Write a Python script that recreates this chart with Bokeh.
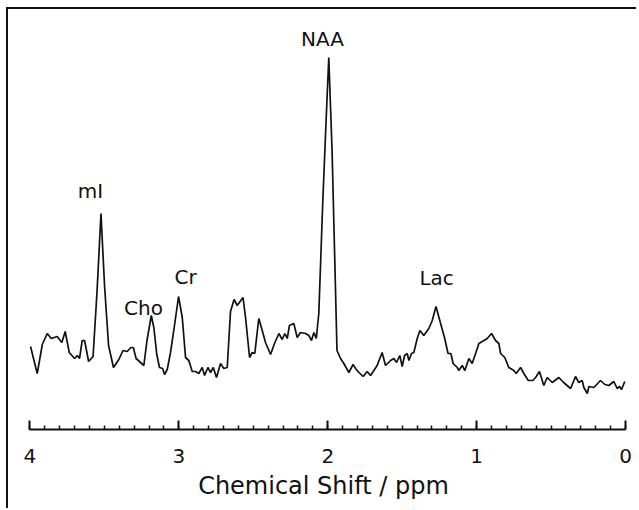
from bokeh.plotting import figure
from bokeh.models import Range1d, SingleIntervalTicker, ColumnDataSource
from bokeh.embed import file_html
from bokeh.resources import INLINE
from bokeh.core.properties import value

# chemical shift (ppm) and signal intensity (a.u.)
ppm = [3.996, 3.951, 3.917, 3.884, 3.857, 3.817, 3.786, 3.763, 3.736, 3.700,
       3.682, 3.667, 3.649, 3.633, 3.606, 3.576, 3.549, 3.523, 3.499, 3.472,
       3.439, 3.403, 3.375, 3.347, 3.322, 3.306, 3.287, 3.235, 3.214, 3.200,
       3.185, 3.168, 3.148, 3.130, 3.109, 3.096, 3.078, 3.056, 3.034, 3.002,
       2.977, 2.955, 2.933, 2.910, 2.888, 2.866, 2.843, 2.827, 2.805, 2.787,
       2.769, 2.747, 2.720, 2.698, 2.675, 2.653, 2.629, 2.608, 2.569, 2.552,
       2.525, 2.507, 2.490, 2.463, 2.440, 2.418, 2.384, 2.355, 2.328, 2.306,
       2.288, 2.272, 2.257, 2.228, 2.205, 2.183, 2.149, 2.127, 2.109, 2.093,
       2.077, 2.060, 2.033, 2.011, 1.993, 1.971, 1.951, 1.938, 1.914, 1.892,
       1.858, 1.830, 1.813, 1.791, 1.762, 1.735, 1.713, 1.690, 1.668, 1.635,
       1.612, 1.578, 1.556, 1.538, 1.516, 1.500, 1.484, 1.466, 1.455, 1.437,
       1.422, 1.399, 1.381, 1.355, 1.321, 1.298, 1.273, 1.242, 1.216, 1.192,
       1.173, 1.158, 1.130, 1.120, 1.097, 1.079, 1.052, 1.030, 1.007, 0.985,
       0.962, 0.929, 0.900, 0.873, 0.851, 0.839, 0.811, 0.784, 0.750, 0.734,
       0.705, 0.683, 0.653, 0.623, 0.604, 0.578, 0.549, 0.526, 0.492, 0.448,
       0.416, 0.369, 0.336, 0.314, 0.291, 0.280, 0.257, 0.246, 0.213, 0.168,
       0.139, 0.112, 0.079, 0.056, 0.040, 0.027, 0.005]
intensity = [83, 56, 85, 96, 91, 93, 87, 98, 77, 71,
             74, 71, 89, 89, 68, 73, 139, 216, 144, 84,
             62, 70, 79, 78, 82, 82, 71, 64, 89, 101,
             114, 102, 75, 62, 61, 55, 60, 77, 99, 133,
             112, 72, 69, 58, 58, 56, 62, 54, 62, 57,
             62, 52, 66, 61, 62, 118, 130, 124, 132, 112,
             72, 77, 76, 111, 99, 87, 75, 87, 96, 90,
             96, 91, 104, 106, 92, 97, 96, 94, 89, 97,
             91, 116, 229, 309, 372, 279, 159, 79, 71, 66,
             57, 65, 61, 57, 53, 58, 54, 59, 64, 77,
             64, 69, 71, 67, 74, 63, 74, 76, 69, 76,
             77, 91, 99, 94, 101, 109, 123, 106, 92, 76,
             76, 66, 62, 59, 64, 59, 71, 66, 76, 86,
             88, 91, 96, 89, 86, 76, 72, 62, 59, 56,
             62, 56, 49, 49, 52, 58, 44, 52, 47, 52,
             47, 41, 53, 47, 49, 42, 36, 43, 42, 49,
             45, 44, 48, 41, 43, 40, 48]

peak_names = ["mI", "Cho", "Cr", "NAA", "Lac"]
peak_label_ppm = [3.593, 3.237, 2.955, 2.035, 1.269]
peak_label_height = [239, 122, 153, 391, 152]

axis_min_ppm, axis_max_ppm = 0, 4

FONT = "DejaVu Sans"

p = figure(width=630, height=501, output_backend="svg", toolbar_location=None,
           x_range=Range1d(4.144, -0.087), y_range=Range1d(0, 420),
           y_axis_type=None,
           min_border_left=0, min_border_right=0, min_border_top=0,
           min_border_bottom=81)
p.outline_line_color = None
p.grid.visible = False
p.background_fill_color = "white"
p.border_fill_color = "white"
p.styles = {"margin-left": "6px", "margin-top": "7px",
            "border-left": "2px solid #111", "border-top": "2px solid #111"}

p.line(ppm, intensity, line_color="#111", line_width=1.7)

src = ColumnDataSource(dict(x=peak_label_ppm, y=peak_label_height, t=peak_names))
p.text(x="x", y="y", text="t", source=src, text_align="center",
       text_baseline="alphabetic", text_font=value(FONT),
       text_font_size="20px", text_color="#111")

ax = p.xaxis[0]
ax.bounds = (axis_min_ppm, axis_max_ppm)
ax.ticker = SingleIntervalTicker(interval=1, num_minor_ticks=10)
ax.axis_line_width = 2
ax.axis_line_color = "#111"
ax.major_tick_in = 9
ax.major_tick_out = 0
ax.minor_tick_in = 4
ax.minor_tick_out = 0
ax.major_tick_line_width = 2
ax.minor_tick_line_width = 1.5
ax.major_tick_line_color = "#111"
ax.minor_tick_line_color = "#111"
ax.major_label_text_font = FONT
ax.major_label_text_font_size = "20px"
ax.major_label_text_color = "#111"
ax.major_label_standoff = 19
ax.axis_label = "Chemical Shift / ppm"
ax.axis_label_text_font = FONT
ax.axis_label_text_font_size = "24px"
ax.axis_label_text_font_style = "normal"
ax.axis_label_text_color = "#111"
ax.axis_label_standoff = 6

open("out.html", "w").write(file_html(p, INLINE))
